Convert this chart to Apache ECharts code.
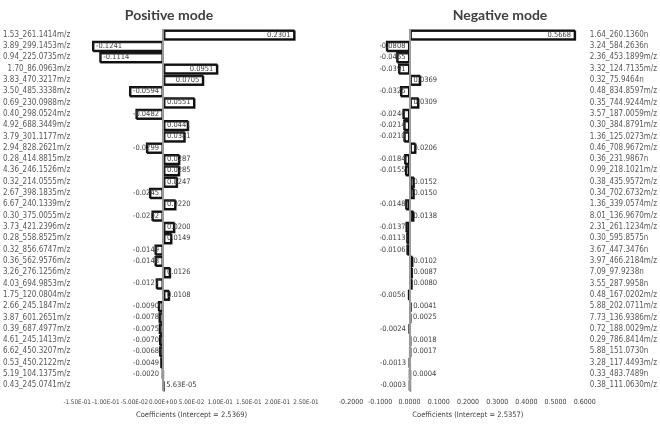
<!DOCTYPE html>
<html>
<head>
<meta charset="utf-8">
<script src="https://cdn.jsdelivr.net/npm/echarts@6/dist/echarts.min.js"></script>
<style>
html,body{margin:0;padding:0;background:#fff;}
#c{width:660px;height:424px;}
</style>
</head>
<body>
<div id="c"></div>
<script>
const posCategories = ["1.53_261.1414m/z","3.89_299.1453m/z","0.94_225.0735m/z","1.70_86.0963m/z","3.83_470.3217m/z","3.50_485.3338m/z","0.69_230.0988m/z","0.40_298.0524m/z","4.92_688.3449m/z","3.79_301.1177m/z","2.94_828.2621m/z","0.28_414.8815m/z","4.36_246.1526m/z","0.32_214.0555m/z","2.67_398.1835m/z","6.67_240.1339m/z","0.30_375.0055m/z","3.73_421.2396m/z","0.28_558.8525m/z","0.32_856.6747m/z","0.36_562.9576m/z","3.26_276.1256m/z","4.03_694.9853m/z","1.75_120.0804m/z","2.66_245.1847m/z","3.87_601.2651m/z","0.39_687.4977m/z","4.61_245.1413m/z","6.62_450.3207m/z","0.53_450.2122m/z","5.19_104.1375m/z","0.43_245.0741m/z"];
const posValues = [0.2301,-0.1241,-0.1114,0.0951,0.0705,-0.0594,0.0551,-0.0482,0.0441,0.0381,-0.0299,0.0287,0.0285,0.0247,-0.0245,0.0220,-0.0202,0.0200,0.0149,-0.0149,-0.0148,0.0126,-0.0127,0.0108,-0.0090,-0.0078,-0.0075,-0.0070,-0.0068,-0.0049,-0.0020,0.0000563];
const negCategories = ["1.64_260.1360n","3.24_584.2636n","2.36_453.1899m/z","3.32_124.7135m/z","0.32_75.9464n","0.48_834.8597m/z","0.35_744.9244m/z","3.57_187.0059m/z","0.30_384.8791m/z","1.36_125.0273m/z","0.46_708.9672m/z","0.36_231.9867n","0.99_218.1021m/z","0.38_435.9572m/z","0.34_702.6732m/z","1.36_339.0574m/z","8.01_136.9670m/z","2.31_261.1234m/z","0.30_595.8575n","3.67_447.3476n","3.97_466.2184m/z","7.09_97.9238n","3.55_287.9958n","0.48_167.0202m/z","5.88_202.0711m/z","7.73_136.9386m/z","0.72_188.0029m/z","0.29_786.8414m/z","5.88_151.0730n","3.28_117.4493m/z","0.33_483.7489n","0.38_111.0630m/z"];
const negValues = [0.5668,-0.0808,-0.0455,-0.0391,0.0369,-0.0325,0.0309,-0.0240,-0.0214,-0.0210,0.0206,-0.0184,-0.0155,0.0152,0.0150,-0.0148,0.0138,-0.0137,-0.0113,-0.0106,0.0102,0.0087,0.0080,-0.0056,0.0041,0.0025,-0.0024,0.0018,0.0017,-0.0013,0.0004,-0.0003];
const titles = ["Positive mode","Negative mode"];
const axisNames = ["Coefficients (Intercept = 2.5369)","Coefficients (Intercept = 2.5357)"];
const posAxis = {min:-0.15, max:0.25, interval:0.05};
const negAxis = {min:-0.2, max:0.6, interval:0.1};

const FONT = "'Liberation Sans Narrow','DejaVu Sans Condensed','Liberation Sans',sans-serif";
const grids = [
  {left:71, width:235, top:29, bottom:29},
  {left:351, width:237, top:29, bottom:29}
];

function sciFmt(v){
  if (Math.abs(v) < 1e-12) return "0.00E+00";
  let e = Math.floor(Math.log10(Math.abs(v)));
  let m = v/Math.pow(10,e);
  if (Math.abs(m) >= 9.995){ m/=10; e+=1; }
  const sign = e<0?"-":"+";
  const ae = Math.abs(e);
  return m.toFixed(2)+"E"+sign+(ae<10?"0":"")+ae;
}
function valFmt(v){
  if (v!==0 && Math.abs(v) < 0.0001) return sciFmt(v);
  return v.toFixed(4);
}
function buildData(vals, axis, grid){
  const pxPer = grid.width/(axis.max-axis.min);
  return vals.map(v=>{
    const txt = valFmt(v);
    const tw = txt.length*3.4;
    const barPx = Math.abs(v)*pxPer;
    let pos;
    if (barPx > tw + 14) pos = v>=0 ? 'insideRight' : 'insideLeft';
    else pos = v>=0 ? 'insideLeft' : 'insideRight';
    return {value:v, label:{position:pos}};
  });
}

const chart = echarts.init(document.getElementById('c'), null, {renderer:'canvas'});
const barStyle = {color:'#ffffff', borderColor:'#111111', borderWidth:1.5,
  shadowColor:'rgba(0,0,0,0.85)', shadowBlur:0, shadowOffsetX:1, shadowOffsetY:1};
const labelStyle = {show:true, fontFamily:FONT, fontSize:7.5, color:'#404040', distance:4,
  formatter:p=>valFmt(p.value)};
const zeroLine = {silent:true, symbol:['none','none'], label:{show:false},
  lineStyle:{color:'#9a9a9a', width:2, type:'solid'}, data:[{xAxis:0}], animation:false};

function xAxisCfg(idx, axis, fmt, fs){
  return {type:'value', gridIndex:idx, min:axis.min, max:axis.max, interval:axis.interval,
    axisLine:{show:false}, axisTick:{show:false}, splitLine:{show:false},
    axisLabel:{fontFamily:FONT, fontSize:fs, color:'#404040', margin:8, formatter:fmt,
      hideOverlap:false, showMinLabel:true, showMaxLabel:true},
    name:axisNames[idx], nameLocation:'middle', nameGap:20,
    nameTextStyle:{fontFamily:FONT, fontSize:7.5, color:'#404040'}};
}
function yAxisCfg(idx, cats, position, margin){
  return {type:'category', gridIndex:idx, data:cats, inverse:true, position:position,
    axisLine:{show:false}, axisTick:{show:false}, splitLine:{show:false},
    axisLabel:{fontFamily:FONT, fontSize:8, color:'#595959', margin:margin, interval:0}};
}

chart.setOption({
  animation:false,
  backgroundColor:'#ffffff',
  title:[
    {text:titles[0], left:164, top:3, textAlign:'center',
      textStyle:{fontFamily:"Lato,'Open Sans',sans-serif", fontWeight:'bold', fontSize:14, color:'#404040'}},
    {text:titles[1], left:495, top:3, textAlign:'center',
      textStyle:{fontFamily:"Lato,'Open Sans',sans-serif", fontWeight:'bold', fontSize:14, color:'#404040'}}
  ],
  grid:grids.map(g=>({left:g.left, width:g.width, top:g.top, bottom:g.bottom, containLabel:false})),
  xAxis:[xAxisCfg(0,posAxis,sciFmt,6.3), xAxisCfg(1,negAxis,v=>v.toFixed(4),7)],
  yAxis:[yAxisCfg(0,posCategories,'left',7), yAxisCfg(1,negCategories,'right',5)],
  series:[
    {type:'bar', xAxisIndex:0, yAxisIndex:0, data:buildData(posValues,posAxis,grids[0]),
      barCategoryGap:'8%', itemStyle:barStyle, label:labelStyle, markLine:zeroLine},
    {type:'bar', xAxisIndex:1, yAxisIndex:1, data:buildData(negValues,negAxis,grids[1]),
      barCategoryGap:'8%', itemStyle:barStyle, label:labelStyle, markLine:zeroLine}
  ]
});
</script>
</body>
</html>
